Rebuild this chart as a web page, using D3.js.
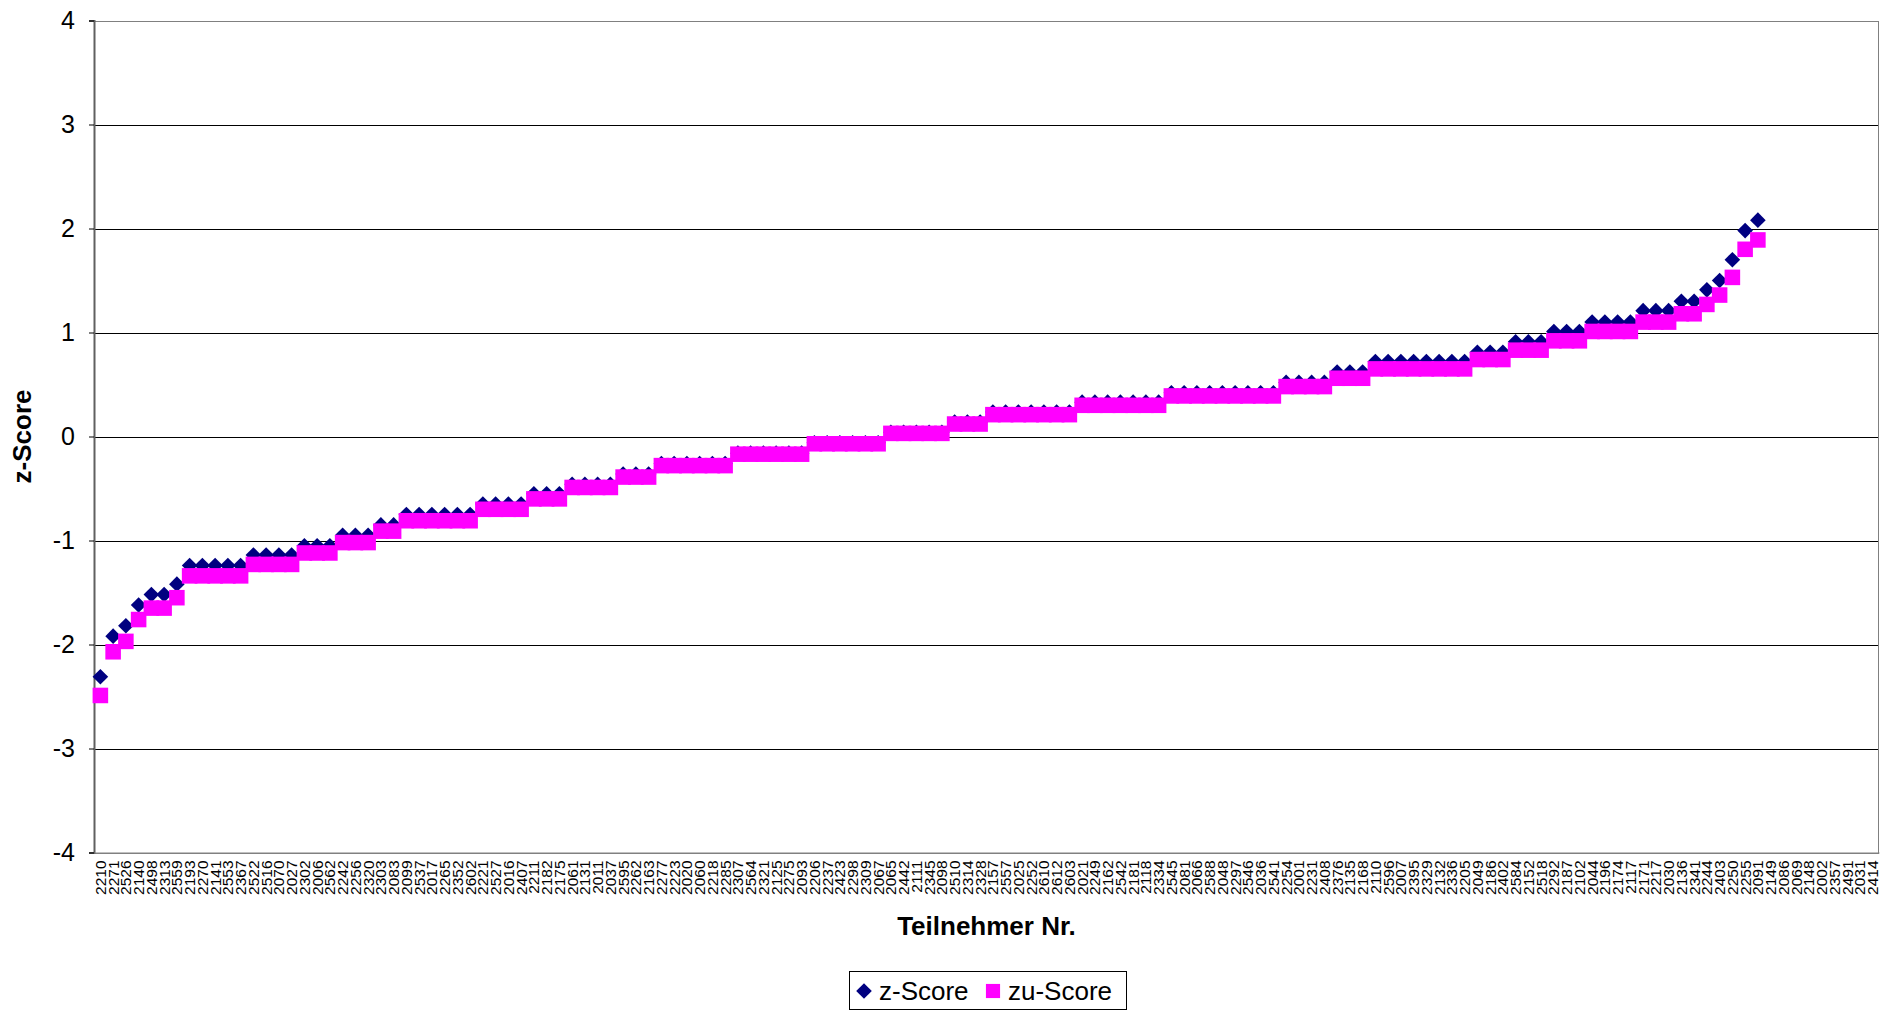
<!DOCTYPE html>
<html>
<head>
<meta charset="utf-8">
<script src="https://cdn.jsdelivr.net/npm/d3@7"></script>
<style>
  html, body { margin: 0; padding: 0; background: #fff; }
  svg { display: block; }
  text { font-family: "Liberation Sans", Arial, sans-serif; }
</style>
</head>
<body>
<script>
// ---------- data ----------
const categories = [
  "2210","2271","2526","2140","2498","2313","2559","2193","2270","2141",
  "2553","2367","2522","2516","2070","2027","2302","2006","2562","2242",
  "2256","2320","2303","2083","2099","2537","2017","2265","2352","2602",
  "2221","2527","2016","2407","2211","2182","2175","2061","2131","2011",
  "2037","2595","2262","2163","2277","2223","2020","2060","2218","2285",
  "2307","2564","2321","2125","2275","2093","2206","2237","2423","2298",
  "2309","2067","2065","2442","2111","2345","2098","2510","2314","2328",
  "2157","2557","2025","2252","2610","2612","2603","2021","2249","2162",
  "2542","2181","2118","2334","2545","2081","2066","2588","2048","2297",
  "2546","2036","2541","2254","2001","2231","2408","2376","2135","2168",
  "2110","2596","2007","2395","2329","2132","2336","2205","2049","2186",
  "2402","2584","2152","2518","2292","2187","2102","2044","2196","2174",
  "2117","2171","2217","2030","2136","2341","2244","2403","2250","2255",
  "2091","2149","2086","2069","2148","2002","2357","2491","2031","2414"
];

const zScore = [
  -2.31, -1.92, -1.82, -1.62, -1.52, -1.52, -1.42,
  -1.24, -1.24, -1.24, -1.24, -1.24,
  -1.14, -1.14, -1.14, -1.14,
  -1.05, -1.05, -1.05,
  -0.95, -0.95, -0.95,
  -0.85, -0.85,
  -0.75, -0.75, -0.75, -0.75, -0.75, -0.75,
  -0.65, -0.65, -0.65, -0.65,
  -0.55, -0.55, -0.55,
  -0.46, -0.46, -0.46, -0.46,
  -0.36, -0.36, -0.36,
  -0.26, -0.26, -0.26, -0.26, -0.26, -0.26,
  -0.16, -0.16, -0.16, -0.16, -0.16, -0.16,
  -0.06, -0.06, -0.06, -0.06, -0.06, -0.06,
  0.04, 0.04, 0.04, 0.04, 0.04,
  0.14, 0.14, 0.14,
  0.235, 0.235, 0.235, 0.235, 0.235, 0.235, 0.235,
  0.33, 0.33, 0.33, 0.33, 0.33, 0.33, 0.33,
  0.42, 0.42, 0.42, 0.42, 0.42, 0.42, 0.42, 0.42, 0.42,
  0.52, 0.52, 0.52, 0.52,
  0.62, 0.62, 0.62,
  0.72, 0.72, 0.72, 0.72, 0.72, 0.72, 0.72, 0.72,
  0.81, 0.81, 0.81,
  0.91, 0.91, 0.91,
  1.01, 1.01, 1.01,
  1.10, 1.10, 1.10, 1.10,
  1.21, 1.21, 1.21,
  1.30, 1.30,
  1.41, 1.50, 1.70, 1.98, 2.08
];

const zuScore = [
  -2.49, -2.07, -1.97, -1.76, -1.65, -1.65, -1.55,
  -1.34, -1.34, -1.34, -1.34, -1.34,
  -1.23, -1.23, -1.23, -1.23,
  -1.12, -1.12, -1.12,
  -1.02, -1.02, -1.02,
  -0.91, -0.91,
  -0.81, -0.81, -0.81, -0.81, -0.81, -0.81,
  -0.70, -0.70, -0.70, -0.70,
  -0.60, -0.60, -0.60,
  -0.49, -0.49, -0.49, -0.49,
  -0.39, -0.39, -0.39,
  -0.28, -0.28, -0.28, -0.28, -0.28, -0.28,
  -0.17, -0.17, -0.17, -0.17, -0.17, -0.17,
  -0.07, -0.07, -0.07, -0.07, -0.07, -0.07,
  0.03, 0.03, 0.03, 0.03, 0.03,
  0.12, 0.12, 0.12,
  0.21, 0.21, 0.21, 0.21, 0.21, 0.21, 0.21,
  0.30, 0.30, 0.30, 0.30, 0.30, 0.30, 0.30,
  0.39, 0.39, 0.39, 0.39, 0.39, 0.39, 0.39, 0.39, 0.39,
  0.48, 0.48, 0.48, 0.48,
  0.56, 0.56, 0.56,
  0.65, 0.65, 0.65, 0.65, 0.65, 0.65, 0.65, 0.65,
  0.74, 0.74, 0.74,
  0.83, 0.83, 0.83,
  0.92, 0.92, 0.92,
  1.01, 1.01, 1.01, 1.01,
  1.10, 1.10, 1.10,
  1.18, 1.18,
  1.27, 1.36, 1.53, 1.80, 1.89
];

const yTicks = [-4, -3, -2, -1, 0, 1, 2, 3, 4];
const yTickLabels = ["-4", "-3", "-2", "-1", "0", "1", "2", "3", "4"];
const seriesNames = ["z-Score", "zu-Score"];
const yTitle = "z-Score";
const xTitle = "Teilnehmer Nr.";

// ---------- layout ----------
const W = 1885, H = 1011;
const plot = { left: 94, right: 1879, top: 20.5, bottom: 852.5 };
const navy = "#000080", magenta = "#FF00FF";
const font = "\"Liberation Sans\", Arial, sans-serif";

const svg = d3.select("body").append("svg")
  .attr("width", W).attr("height", H)
  .attr("viewBox", `0 0 ${W} ${H}`);

svg.append("rect").attr("width", W).attr("height", H).attr("fill", "#fff");

const x = d3.scaleBand().domain(categories).range([plot.left, plot.right]).padding(0);
const y = d3.scaleLinear().domain([-4, 4]).range([plot.bottom, plot.top]);

// gridlines
svg.append("g").selectAll("line").data(yTicks).join("line")
  .attr("x1", plot.left).attr("x2", plot.right)
  .attr("y1", d => Math.round(y(d)) + 0.5).attr("y2", d => Math.round(y(d)) + 0.5)
  .attr("stroke", "#000").attr("stroke-width", 1);

// plot border
svg.append("rect")
  .attr("x", plot.left + 0.5).attr("y", Math.round(plot.top) + 0.5)
  .attr("width", plot.right - plot.left - 1).attr("height", Math.round(plot.bottom) - Math.round(plot.top))
  .attr("fill", "none").attr("stroke", "#808080").attr("stroke-width", 1);

// y axis
const yAxis = d3.axisLeft(y).tickValues(yTicks).tickSize(5).tickPadding(14)
  .tickFormat((d, i) => yTickLabels[i]);
const gy = svg.append("g").attr("transform", `translate(${plot.left},0)`).call(yAxis);
gy.select(".domain").attr("stroke", "#606060").attr("stroke-width", 2);
gy.selectAll(".tick line").attr("stroke", "#000");
gy.selectAll(".tick text")
  .attr("font-family", font).attr("font-size", 25).attr("fill", "#000");

// x axis (labels only)
const xAxis = d3.axisBottom(x).tickSize(0).tickPadding(0);
const gx = svg.append("g").attr("transform", `translate(0,${plot.bottom})`).call(xAxis);
gx.select(".domain").attr("stroke", "#808080");
gx.selectAll(".tick text")
  .attr("font-family", font).attr("font-size", 15.5).attr("fill", "#000")
  .attr("text-anchor", "end")
  .attr("transform", "translate(0,8) rotate(-90)")
  .attr("dx", 0).attr("dy", "0.36em").attr("y", 0).attr("x", 0);

// axis titles
svg.append("text")
  .attr("transform", `translate(31,${(plot.top + plot.bottom) / 2}) rotate(-90)`)
  .attr("text-anchor", "middle").attr("font-family", font)
  .attr("font-size", 26).attr("font-weight", "bold").text(yTitle);

svg.append("text")
  .attr("x", (plot.left + plot.right) / 2).attr("y", 935)
  .attr("text-anchor", "middle").attr("font-family", font)
  .attr("font-size", 26).attr("font-weight", "bold").text(xTitle);

// markers
const diamond = d3.symbol().type(d3.symbolSquare).size(122);
const square = d3.symbol().type(d3.symbolSquare).size(242);
const cx = i => x(categories[i]) + x.bandwidth() / 2;

svg.append("g").selectAll("path").data(zScore).join("path")
  .attr("d", diamond)
  .attr("transform", (d, i) => `translate(${cx(i)},${y(d)}) rotate(45)`)
  .attr("fill", navy);

svg.append("g").selectAll("path").data(zuScore).join("path")
  .attr("d", square)
  .attr("transform", (d, i) => `translate(${cx(i)},${y(d)})`)
  .attr("fill", magenta);

// legend
const lg = svg.append("g");
lg.append("rect").attr("x", 849.5).attr("y", 971.5).attr("width", 277).attr("height", 38)
  .attr("fill", "#fff").attr("stroke", "#000").attr("stroke-width", 1);
const legendItems = [
  { name: seriesNames[0], color: navy, sym: diamond, rot: 45, mx: 864, tx: 879 },
  { name: seriesNames[1], color: magenta, sym: d3.symbol().type(d3.symbolSquare).size(200), rot: 0, mx: 993, tx: 1008 }
];
legendItems.forEach(it => {
  lg.append("path").attr("d", it.sym).attr("fill", it.color)
    .attr("transform", `translate(${it.mx},991) rotate(${it.rot})`);
  lg.append("text").attr("x", it.tx).attr("y", 1000)
    .attr("font-family", font).attr("font-size", 26).text(it.name);
});
</script>
</body>
</html>
